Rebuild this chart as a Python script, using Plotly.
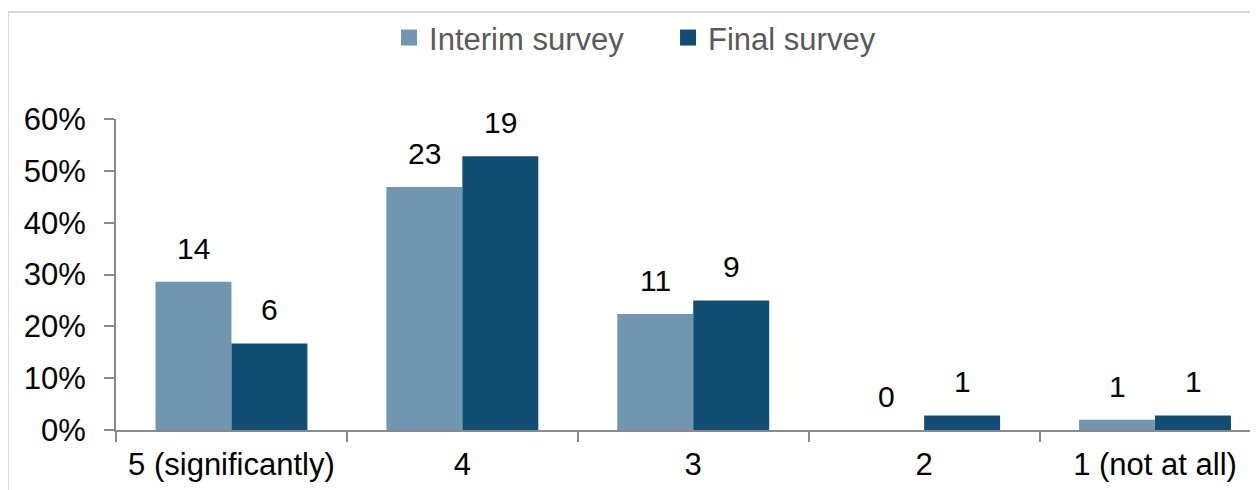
import plotly.graph_objects as go

# survey responses, share of respondents per score (bar height) and raw counts (labels)
categories = ["5 (significantly)", "4", "3", "2", "1 (not at all)"]
interim_pct = [0.286, 0.469, 0.224, 0.0, 0.020]
final_pct = [0.167, 0.528, 0.250, 0.028, 0.028]
interim_n = [14, 23, 11, 0, 1]
final_n = [6, 19, 9, 1, 1]
y_ticks = [0, 0.1, 0.2, 0.3, 0.4, 0.5, 0.6]

INTERIM_COLOR = "#7196B0"
FINAL_COLOR = "#124E73"
AXIS_COLOR = "#898989"
FONT = "Liberation Sans, Arial, sans-serif"

fig = go.Figure()
for name, vals, color in [("Interim survey", interim_pct, INTERIM_COLOR),
                          ("Final survey", final_pct, FINAL_COLOR)]:
    fig.add_trace(go.Bar(name=name, x=categories, y=vals, showlegend=False,
                         marker=dict(color=color, line_width=0)))
    # legend entry with a bigger square swatch
    fig.add_trace(go.Scatter(name=name, x=[None], y=[None], mode="markers",
                             marker=dict(symbol="square", size=17, color=color)))

# count labels above each bar
for shift, pcts, counts in [(-38, interim_pct, interim_n), (38, final_pct, final_n)]:
    for i, (p, n) in enumerate(zip(pcts, counts)):
        fig.add_annotation(x=i, y=p, text=str(n), showarrow=False,
                           xshift=shift, yshift=15, yanchor="bottom",
                           font=dict(size=30, color="black", family=FONT))

# light grey frame around the chart area
fig.add_shape(type="rect", xref="paper", yref="paper",
              x0=-0.0946, x1=1.2, y0=-0.5, y1=1.344,
              line=dict(color="#D9D9D9", width=2), layer="below")

fig.update_layout(
    width=1258, height=490,
    margin=dict(l=108, r=8, t=111, b=68, autoexpand=False),
    barmode="group", bargap=0.342, bargroupgap=0,
    plot_bgcolor="white", paper_bgcolor="white",
    font=dict(family=FONT, size=31, color="black"),
    legend=dict(orientation="h", x=0.4834, xanchor="center",
                yref="container", y=0.939, yanchor="middle",
                font=dict(size=31, color="#595959"), entrywidth=234,
                bgcolor="rgba(0,0,0,0)"),
    xaxis=dict(type="category", range=[-0.5, 4.446], showline=True,
               linecolor=AXIS_COLOR, linewidth=2, ticks="outside",
               tickson="boundaries", ticklen=10, tickwidth=2, tickcolor=AXIS_COLOR,
               showgrid=False, ticklabelstandoff=6),
    yaxis=dict(range=[0, 0.6], tickvals=y_ticks, tickformat=".0%", showline=True,
               linecolor=AXIS_COLOR, linewidth=2, ticks="outside", ticklen=10,
               tickwidth=2, tickcolor=AXIS_COLOR, showgrid=False, zeroline=False,
               ticklabelstandoff=12),
)

fig.write_html("out.html")
